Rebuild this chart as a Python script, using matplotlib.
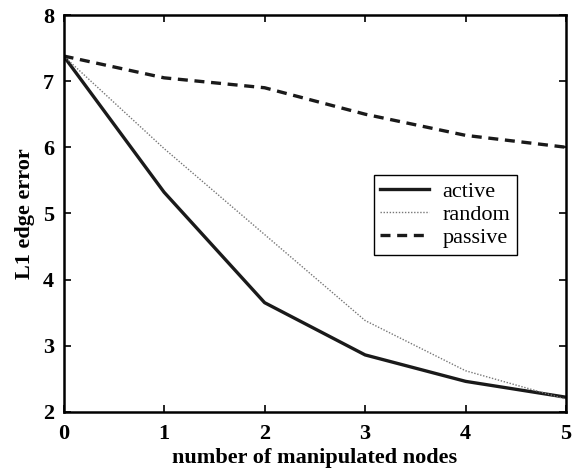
import numpy as np
import matplotlib
matplotlib.use('Agg')
import matplotlib.pyplot as plt

# values
nodes = [0, 1, 2, 3, 4, 5]
active = [7.38, 5.32, 3.65, 2.86, 2.46, 2.22]
random_sel = [7.38, 5.98, 4.68, 3.38, 2.62, 2.19]
passive = [7.38, 7.05, 6.90, 6.50, 6.18, 6.00]

plt.rcParams['font.family'] = 'Liberation Serif'

fig = plt.figure(figsize=(5.73, 4.69), dpi=100)
ax = fig.add_axes([0.111, 0.122, 0.877, 0.846])

ax.plot(nodes, active, color='#1a1a1a', lw=2.4, ls='-', label='active')
ax.plot(nodes, random_sel, color='#777777', lw=1.0, ls=(0, (1, 1.2)), label='random')
ax.plot(nodes, passive, color='#1a1a1a', lw=2.4, ls=(0, (3, 2)), label='passive')

ax.set_xlim(0, 5)
ax.set_ylim(2, 8)
ax.set_xticks(range(0, 6))
ax.set_yticks(range(2, 9))
ax.tick_params(direction='in', top=True, right=True, length=5, width=1.2,
               labelsize=16)
ax.tick_params(axis='x', pad=9)
ax.tick_params(axis='y', pad=7)
for lab in ax.get_xticklabels() + ax.get_yticklabels():
    lab.set_fontweight('bold')
for sp in ax.spines.values():
    sp.set_linewidth(1.8)

ax.set_xlabel('number of manipulated nodes', fontsize=16, fontweight='bold', labelpad=2.5)
ax.set_ylabel('L1 edge error', fontsize=16, fontweight='bold', labelpad=5.5)

leg = ax.legend(loc='upper left', bbox_to_anchor=(0.617, 0.598), fontsize=16,
                frameon=True, fancybox=False, edgecolor='black', framealpha=1,
                handlelength=2.2, borderpad=0.3, labelspacing=0.12, handletextpad=0.6,
                borderaxespad=0)
leg.get_frame().set_linewidth(1.0)

fig.savefig('out.png', dpi=100)
